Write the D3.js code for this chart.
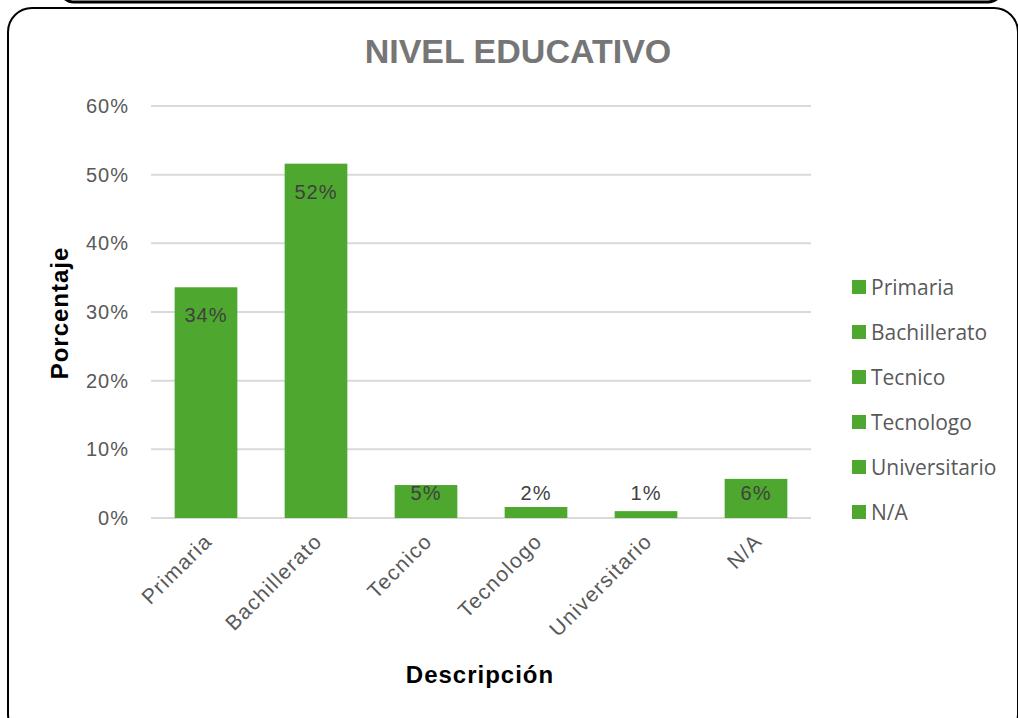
<!DOCTYPE html>
<html>
<head>
<meta charset="utf-8">
<script src="https://cdn.jsdelivr.net/npm/d3@7"></script>
<style>
  body { margin: 0; background: #fff; }
  svg { display: block; }
</style>
</head>
<body>
<svg id="chart"></svg>
<script>
// data
const categories = ["Primaria", "Bachillerato", "Tecnico", "Tecnologo", "Universitario", "N/A"];
const values = [0.336, 0.516, 0.048, 0.016, 0.010, 0.057];
const valueLabels = ["34%", "52%", "5%", "2%", "1%", "6%"];
const yTicks = [0, 0.1, 0.2, 0.3, 0.4, 0.5, 0.6];

const W = 1018, H = 718;
const barColor = "#4ea72e";
const textGray = "#595959";
const gridColor = "#d9d9d9";

const svg = d3.select("#chart").attr("width", W).attr("height", H);

// frame of the card above (only its bottom edge shows) and this card
svg.append("rect")
    .attr("x", 60).attr("y", -40).attr("width", 942).attr("height", 42)
    .attr("rx", 14)
    .attr("fill", "none").attr("stroke", "#000").attr("stroke-width", 3);

svg.append("rect")
    .attr("x", 8).attr("y", 8).attr("width", 1010).attr("height", 730)
    .attr("rx", 24)
    .attr("fill", "#fff").attr("stroke", "#000").attr("stroke-width", 2);

const plot = { left: 151, right: 811, top: 106, bottom: 518 };

const x = d3.scaleBand()
    .domain(categories)
    .range([plot.left, plot.right])
    .paddingInner(0.43)
    .paddingOuter(0.215);

const y = d3.scaleLinear()
    .domain([0, 0.6])
    .range([plot.bottom, plot.top]);

// gridlines
svg.append("g")
    .selectAll("line")
    .data(yTicks)
    .join("line")
    .attr("x1", plot.left)
    .attr("x2", plot.right)
    .attr("y1", d => y(d))
    .attr("y2", d => y(d))
    .attr("stroke", gridColor)
    .attr("stroke-width", 2);

// y axis labels
const yAxis = d3.axisLeft(y)
    .tickValues(yTicks)
    .tickFormat(d3.format(".0%"))
    .tickSize(0)
    .tickPadding(22);

svg.append("g")
    .attr("transform", `translate(${plot.left}, 0)`)
    .call(yAxis)
    .call(g => g.select(".domain").remove())
    .selectAll("text")
    .attr("fill", textGray)
    .style("font-family", "'Liberation Sans', Arial, sans-serif")
    .style("font-size", "20px")
    .style("letter-spacing", "1px");

// bars
svg.append("g")
    .selectAll("rect")
    .data(values)
    .join("rect")
    .attr("x", (d, i) => x(categories[i]))
    .attr("y", d => y(d))
    .attr("width", x.bandwidth())
    .attr("height", d => y(0) - y(d))
    .attr("fill", barColor);

// value labels
svg.append("g")
    .selectAll("text")
    .data(values)
    .join("text")
    .attr("x", (d, i) => x(categories[i]) + x.bandwidth() / 2)
    .attr("y", d => Math.min(y(d) + 28, plot.bottom - 25))
    .attr("dy", "0.35em")
    .attr("text-anchor", "middle")
    .attr("fill", "#404040")
    .style("font-family", "'Liberation Sans', Arial, sans-serif")
    .style("font-size", "20px")
    .style("letter-spacing", "1px")
    .text((d, i) => valueLabels[i]);

// x axis category labels, rotated
const xAxis = d3.axisBottom(x).tickSize(0).tickPadding(0);

svg.append("g")
    .attr("transform", `translate(0, ${plot.bottom})`)
    .call(xAxis)
    .call(g => g.select(".domain").remove())
    .selectAll("text")
    .attr("fill", textGray)
    .style("font-family", "'Liberation Sans', Arial, sans-serif")
    .style("font-size", "21px")
    .style("letter-spacing", "1.4px")
    .attr("text-anchor", "end")
    .attr("dy", "0.7em")
    .attr("transform", "translate(-3, 14) rotate(-45)");

// title
svg.append("text")
    .attr("x", 518)
    .attr("y", 63)
    .attr("text-anchor", "middle")
    .attr("fill", "#767676")
    .style("font-family", "'Liberation Sans', Arial, sans-serif")
    .style("font-size", "34px")
    .style("font-weight", "bold")
    .text("NIVEL EDUCATIVO");

// axis titles
svg.append("text")
    .attr("transform", "translate(68, 313) rotate(-90)")
    .attr("text-anchor", "middle")
    .attr("fill", "#000")
    .style("font-family", "'Liberation Sans', Arial, sans-serif")
    .style("font-size", "24px")
    .style("font-weight", "bold")
    .style("letter-spacing", "1px")
    .text("Porcentaje");

svg.append("text")
    .attr("x", 480)
    .attr("y", 683)
    .attr("text-anchor", "middle")
    .attr("fill", "#000")
    .style("font-family", "'Liberation Sans', Arial, sans-serif")
    .style("font-size", "24px")
    .style("font-weight", "bold")
    .style("letter-spacing", "1px")
    .text("Descripción");

// legend
const legend = svg.append("g")
    .selectAll("g")
    .data(categories)
    .join("g")
    .attr("transform", (d, i) => `translate(852, ${287 + i * 45})`);

legend.append("rect")
    .attr("x", 0)
    .attr("y", -7)
    .attr("width", 14)
    .attr("height", 14)
    .attr("fill", barColor);

legend.append("text")
    .attr("x", 19)
    .attr("y", 0)
    .attr("dy", "0.36em")
    .attr("fill", textGray)
    .style("font-family", "'Open Sans', 'Noto Sans', sans-serif")
    .style("font-size", "21px")
    .text(d => d);
</script>
</body>
</html>
